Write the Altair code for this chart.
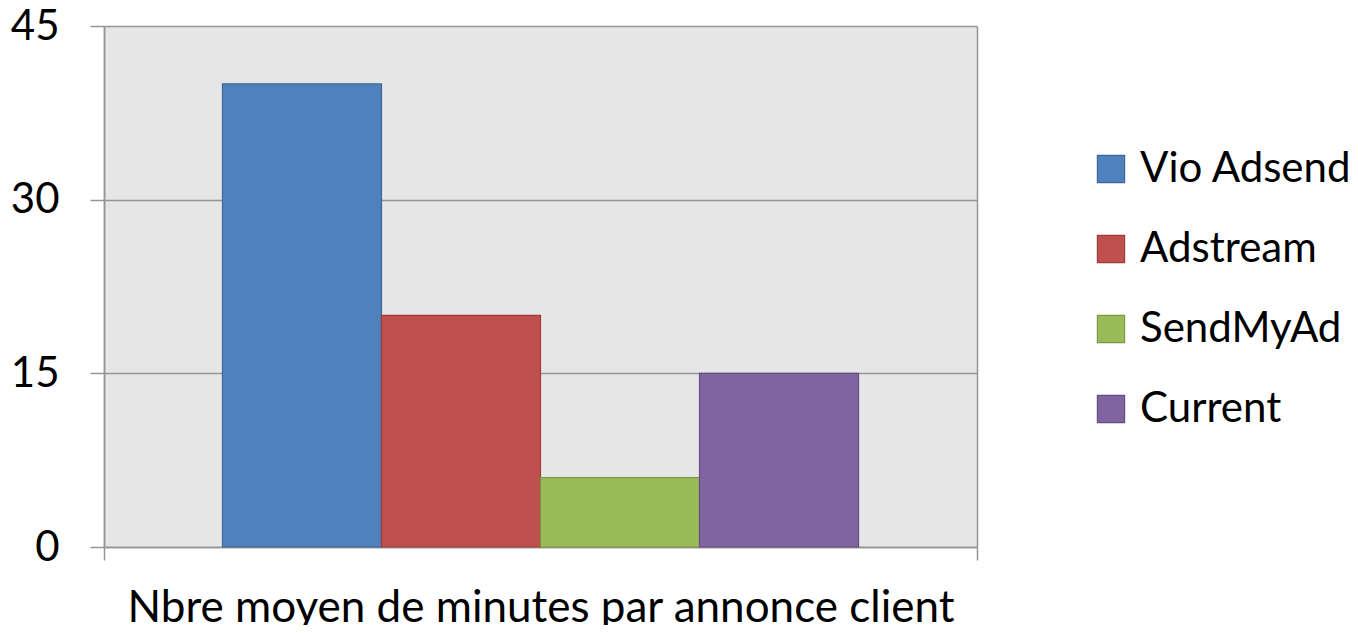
import altair as alt
import pandas as pd

category = ["Nbre moyen de minutes par annonce client"]
series = ["Vio Adsend", "Adstream", "SendMyAd", "Current"]
values = [40, 20, 6, 15]
fills = ["#4F81BD", "#C0504D", "#9BBB59", "#8064A2"]
strokes = ["#3D6896", "#9A3E3B", "#7C9746", "#634D82"]
y_ticks = [0, 15, 30, 45]

df = pd.DataFrame({"cat": category * len(series), "series": series, "value": values})

FONT = "Lato"
GRID = "#959595"

legend_cfg = dict(title=None, orient="none", legendX=986, legendY=122,
                  symbolType="square", symbolSize=740, symbolStrokeWidth=1.2,
                  labelFontSize=42, labelFont=FONT, labelColor="black",
                  rowPadding=38, labelOffset=8, labelLimit=400)

chart = alt.Chart(df).mark_bar(strokeWidth=1.2).encode(
    x=alt.X("cat:N", title=category[0],
            scale=alt.Scale(paddingInner=0, paddingOuter=0),
            axis=alt.Axis(labels=False, tickBand="extent", grid=True, gridColor=GRID,
                          gridWidth=1.5, tickColor=GRID, tickWidth=1.5, tickSize=13,
                          domainColor=GRID, domainWidth=1.5, titleFontSize=44,
                          titleFont=FONT, titleFontWeight="normal", titleColor="black",
                          titlePadding=26)),
    xOffset=alt.XOffset("series:N", sort=series,
                        scale=alt.Scale(paddingInner=0, paddingOuter=0.745)),
    y=alt.Y("value:Q", title=None,
            scale=alt.Scale(domain=[0, 45], nice=False),
            axis=alt.Axis(values=y_ticks, grid=True, gridColor=GRID, gridWidth=1.5,
                          tickColor=GRID, tickWidth=1.5, tickSize=14,
                          domainColor=GRID, domainWidth=1.5, labelFontSize=42,
                          labelFont=FONT, labelColor="black", labelPadding=31)),
    fill=alt.Fill("series:N", sort=series, scale=alt.Scale(domain=series, range=fills),
                  legend=alt.Legend(**legend_cfg)),
    stroke=alt.Stroke("series:N", sort=series, scale=alt.Scale(domain=series, range=strokes),
                      legend=alt.Legend(**legend_cfg)),
).properties(
    width=873, height=521,
    padding={"left": 96, "top": 18, "right": 373, "bottom": 78},
    autosize=alt.AutoSizeParams(type="none"),
    background="white",
).configure_view(fill="#E6E6E6", stroke=None)

chart.save("out.html", embed_options={"renderer": "svg", "actions": False})
